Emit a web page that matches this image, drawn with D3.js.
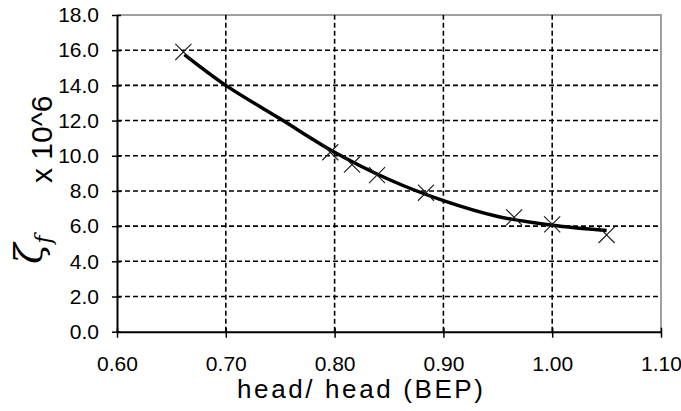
<!DOCTYPE html>
<html lang="en">
<head>
<meta charset="UTF-8">
<title>friction factor vs head</title>
<script src="https://cdn.jsdelivr.net/npm/d3@7"></script>
<style>
    body { margin: 0; background: #fff; }
    text { font-family: "Liberation Sans", Arial, sans-serif; fill: #000; }
</style>
</head>
<body>
<div id="chart"></div>
<script>
// data
var xTicks = [0.60, 0.70, 0.80, 0.90, 1.00, 1.10];
var yTicks = [0, 2, 4, 6, 8, 10, 12, 14, 16, 18];
var pointX = [0.661, 0.796, 0.816, 0.839, 0.884, 0.965, 1.000, 1.050];
var pointY = [15.9, 10.2, 9.5, 8.9, 7.9, 6.5, 6.1, 5.5];
var fitX = [0.662, 0.70, 0.75, 0.80, 0.85, 0.90, 0.95, 1.00, 1.05];
var fitY = [15.75, 14.0, 12.1, 10.2, 8.65, 7.45, 6.55, 6.05, 5.75];

var width = 681, height = 411;
var svg = d3.select("#chart").append("svg")
    .attr("width", width)
    .attr("height", height);

var x = d3.scaleLinear().domain([0.6, 1.1]).range([117, 661]);
var y = d3.scaleLinear().domain([0, 18]).range([331.7, 15]);

// border top / right
svg.append("path")
    .attr("d", "M" + x(0.6) + "," + y(18) + "H" + x(1.1) + "V" + y(0))
    .attr("fill", "none")
    .attr("stroke", "#a0a0a0")
    .attr("stroke-width", 2);

// grid
svg.append("g").selectAll("line")
    .data(yTicks.filter(function(d) { return d > 0 && d < 18; }))
    .enter().append("line")
    .attr("x1", x(0.6)).attr("x2", x(1.1))
    .attr("y1", function(d) { return y(d); })
    .attr("y2", function(d) { return y(d); })
    .attr("stroke", "#000")
    .attr("stroke-width", 1.6)
    .attr("stroke-dasharray", "5,3");
svg.append("g").selectAll("line")
    .data(xTicks.filter(function(d) { return d > 0.61 && d < 1.09; }))
    .enter().append("line")
    .attr("y1", y(0)).attr("y2", y(18))
    .attr("x1", function(d) { return x(d); })
    .attr("x2", function(d) { return x(d); })
    .attr("stroke", "#000")
    .attr("stroke-width", 1.6)
    .attr("stroke-dasharray", "5,3");

// axes
var xAxis = svg.append("g")
    .attr("transform", "translate(0," + y(0) + ")")
    .call(d3.axisBottom(x).tickValues(xTicks).tickFormat(d3.format(".2f"))
        .tickSizeInner(6).tickSizeOuter(0).tickPadding(18));
xAxis.select(".domain").attr("stroke-width", 2);
xAxis.selectAll(".tick line").attr("y1", -4).attr("stroke-width", 1.5);
xAxis.selectAll("text").attr("font-size", 21).attr("font-family", "Liberation Sans, Arial, sans-serif");

var yAxis = svg.append("g")
    .attr("transform", "translate(" + x(0.6) + ",0)")
    .call(d3.axisLeft(y).tickValues(yTicks).tickFormat(d3.format(".1f"))
        .tickSizeInner(5).tickSizeOuter(0).tickPadding(13));
yAxis.select(".domain").attr("stroke-width", 2);
yAxis.selectAll(".tick line").attr("x1", 4).attr("stroke-width", 1.5);
yAxis.selectAll("text").attr("font-size", 21).attr("font-family", "Liberation Sans, Arial, sans-serif");

// fitted curve
var line = d3.line()
    .x(function(d) { return x(d[0]); })
    .y(function(d) { return y(d[1]); })
    .curve(d3.curveCatmullRom);
svg.append("path")
    .datum(d3.zip(fitX, fitY))
    .attr("d", line)
    .attr("fill", "none")
    .attr("stroke", "#000")
    .attr("stroke-width", 3.5);

// measured points (x markers)
var sym = d3.symbol().type(d3.symbolX).size(170);
svg.append("g").selectAll("path")
    .data(d3.zip(pointX, pointY))
    .enter().append("path")
    .attr("d", sym)
    .attr("transform", function(d) { return "translate(" + x(d[0]) + "," + y(d[1]) + ")"; })
    .attr("fill", "none")
    .attr("stroke", "#222")
    .attr("stroke-width", 1.2);

// axis titles
svg.append("text")
    .attr("x", 237).attr("y", 398)
    .attr("font-size", 26)
    .attr("textLength", 246)
    .attr("lengthAdjust", "spacing")
    .text("head/ head (BEP)");

svg.append("text")
    .attr("transform", "translate(52,183) rotate(-90)")
    .attr("font-size", 30)
    .attr("fill", "#222")
    .text("x 10^6");

var zeta = svg.append("text")
    .attr("transform", "translate(42,264) rotate(-90)")
    .attr("fill", "#333");
zeta.append("tspan")
    .attr("font-family", "DejaVu Serif, serif")
    .attr("font-style", "italic")
    .attr("font-size", 38)
    .text("ζ");
zeta.append("tspan")
    .attr("font-family", "DejaVu Serif, serif")
    .attr("font-style", "italic")
    .attr("font-size", 22)
    .attr("dy", 9)
    .text("f");
</script>
</body>
</html>
